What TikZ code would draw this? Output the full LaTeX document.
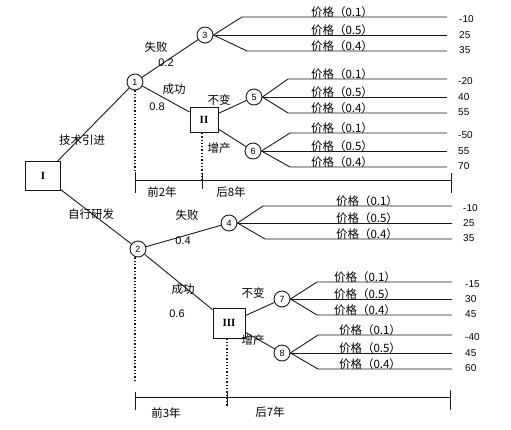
\documentclass[tikz,border=0pt]{standalone}
\usepackage{fontspec}
\setmainfont{Liberation Sans}
\newfontfamily\cjk{Noto Sans CJK SC}
\newfontfamily\romanfont{Liberation Serif}
\begin{document}
\begin{tikzpicture}[x=1pt,y=-1pt,
  ln/.style={line width=0.9pt, draw=black!90},
  cnode/.style={draw=black!90, line width=0.9pt, circle, minimum size=16pt, inner sep=0pt, font=\fontsize{9}{10}\selectfont, fill=white},
  dbox/.style={draw=black!90, line width=0.9pt, rectangle, inner sep=0pt, font=\romanfont\bfseries\fontsize{11}{12}\selectfont, fill=white},
  lbl/.style={font=\cjk\fontsize{11.5}{13}\selectfont, inner sep=0pt, text=black},
  num/.style={font=\fontsize{11}{12}\selectfont, inner sep=0pt, text=black},
  price/.style={font=\cjk\fontsize{11.5}{12}\selectfont, inner sep=0pt, anchor=south, text=black},
  val/.style={font=\fontsize{10}{11}\selectfont, inner sep=0pt, anchor=west, text=black},
  dotl/.style={dotted, line width=1.3pt, draw=black!90},
  tl/.style={line width=0.9pt, draw=black!90}]
\useasboundingbox (0,0) rectangle (511,429);

% decision and chance nodes
\node[dbox, minimum width=35pt, minimum height=29pt] (I) at (43,176) {I};
\node[cnode] (n1) at (135,82) {1};
\node[cnode] (n3) at (205,35) {3};
\node[dbox, minimum width=28pt, minimum height=25pt] (II) at (204,120) {II};
\node[cnode] (n5) at (254,97) {5};
\node[cnode] (n6) at (253,151) {6};
\node[cnode] (n2) at (138,249) {2};
\node[cnode] (n4) at (229,223) {4};
\node[dbox, minimum width=32pt, minimum height=30pt] (III) at (229,323) {III};
\node[cnode] (n7) at (282,299) {7};
\node[cnode] (n8) at (282,353) {8};

% main connectors
\draw[ln] (I) -- (n1);
\draw[ln] (I) -- (n2);
\draw[ln] (n1) -- (n3);
\draw[ln] (n1) -- (II);
\draw[ln] (II) -- (n5);
\draw[ln] (II) -- (n6);
\draw[ln] (n2) -- (n4);
\draw[ln] (n2) -- (III);
\draw[ln] (III) -- (n7);
\draw[ln] (III) -- (n8);

% outcome branches
\foreach \n/\xa/\xb/\ya/\yb/\yc/\xe/\xp/\xv/\va/\vb/\vc in {
 n3/242/247/17/35/51/447/342/459/-10/25/35,
 n5/288/288/79/97/113/447/342/458/-20/40/55,
 n6/290/290/133/151/167/447/342/458/-50/55/70,
 n4/263/265/206/223/239/452/367/463/-10/25/35,
 n7/317/317/282/299/315/452/365/465/-15/30/45,
 n8/318/318/335/353/369/452/370/465/-40/45/60}{
  \coordinate (\n-ka) at (\xa,\ya);
  \coordinate (\n-kc) at (\xb,\yc);
  \coordinate (\n-ea) at (\xe,\ya);
  \coordinate (\n-eb) at (\xe,\yb);
  \coordinate (\n-ec) at (\xe,\yc);
  \draw[ln] (\n.east) -- (\n-ka) -- (\n-ea);
  \draw[ln] (\n.east) -- (\n-eb);
  \draw[ln] (\n.east) -- (\n-kc) -- (\n-ec);
  \node[price] (\n-pa) at (\xp,\ya+0.5) {价格（0.1）};
  \node[price] (\n-pb) at (\xp,\yb+0.5) {价格（0.5）};
  \node[price] (\n-pc) at (\xp,\yc+0.5) {价格（0.4）};
  \node[val] (\n-va) at (\xv,\ya+2) {\va};
  \node[val] (\n-vb) at (\xv,\yb) {\vb};
  \node[val] (\n-vc) at (\xv,\yc-1) {\vc};
}

% branch labels
\node[lbl] (l1) at (82,140) {技术引进};
\node[lbl] (l2) at (91,214) {自行研发};
\node[lbl] (l3) at (156,47) {失败};
\node[num] (l4) at (166,63) {0.2};
\node[lbl] (l5) at (174,89) {成功};
\node[num] (l6) at (157,107) {0.8};
\node[lbl] (l7) at (219,100) {不变};
\node[lbl] (l8) at (219,148) {增产};
\node[lbl] (l9) at (187,215) {失败};
\node[num] (l10) at (183,241) {0.4};
\node[lbl] (l11) at (183,289) {成功};
\node[num] (l12) at (177,314) {0.6};
\node[lbl] (l13) at (253,293) {不变};
\node[lbl] (l14) at (253,340) {增产};

% time line 1
\coordinate (t1a) at (135,180);
\coordinate (t1b) at (202,180);
\coordinate (t1c) at (451,180);
\draw[tl] (t1a) -- (t1c);
\draw[tl] ([yshift=8pt]t1a) -- ([yshift=-13pt]t1a);
\draw[tl] ([yshift=7pt]t1b) -- ([yshift=-9pt]t1b);
\draw[tl] ([yshift=7pt]t1c) -- ([yshift=-13pt]t1c);
\draw[dotl] (n1.south) -- ([yshift=8pt]t1a);
\draw[dotl] (II.south -| t1b) -- (t1b);
\node[lbl] (tp1) at (162,192) {前2年};
\node[lbl] (tp2) at (231,192) {后8年};

% time line 2
\coordinate (t2a) at (135,397);
\coordinate (t2b) at (227,397);
\coordinate (t2c) at (450,397);
\draw[tl] (t2a) -- (t2c);
\draw[tl] ([yshift=5pt]t2a) -- ([yshift=-13pt]t2a);
\draw[tl] ([yshift=5pt]t2b) -- ([yshift=-8pt]t2b);
\draw[tl] ([yshift=7pt]t2c) -- ([yshift=-13pt]t2c);
\coordinate (d2e) at (135,380);
\draw[dotl] (n2.south -| d2e) -- (d2e);
\draw[dotl] (III.south -| t2b) -- ([yshift=-10pt]t2b);
\node[lbl] (tp3) at (166,413) {前3年};
\node[lbl] (tp4) at (270,412) {后7年};
\end{tikzpicture}
\end{document}
